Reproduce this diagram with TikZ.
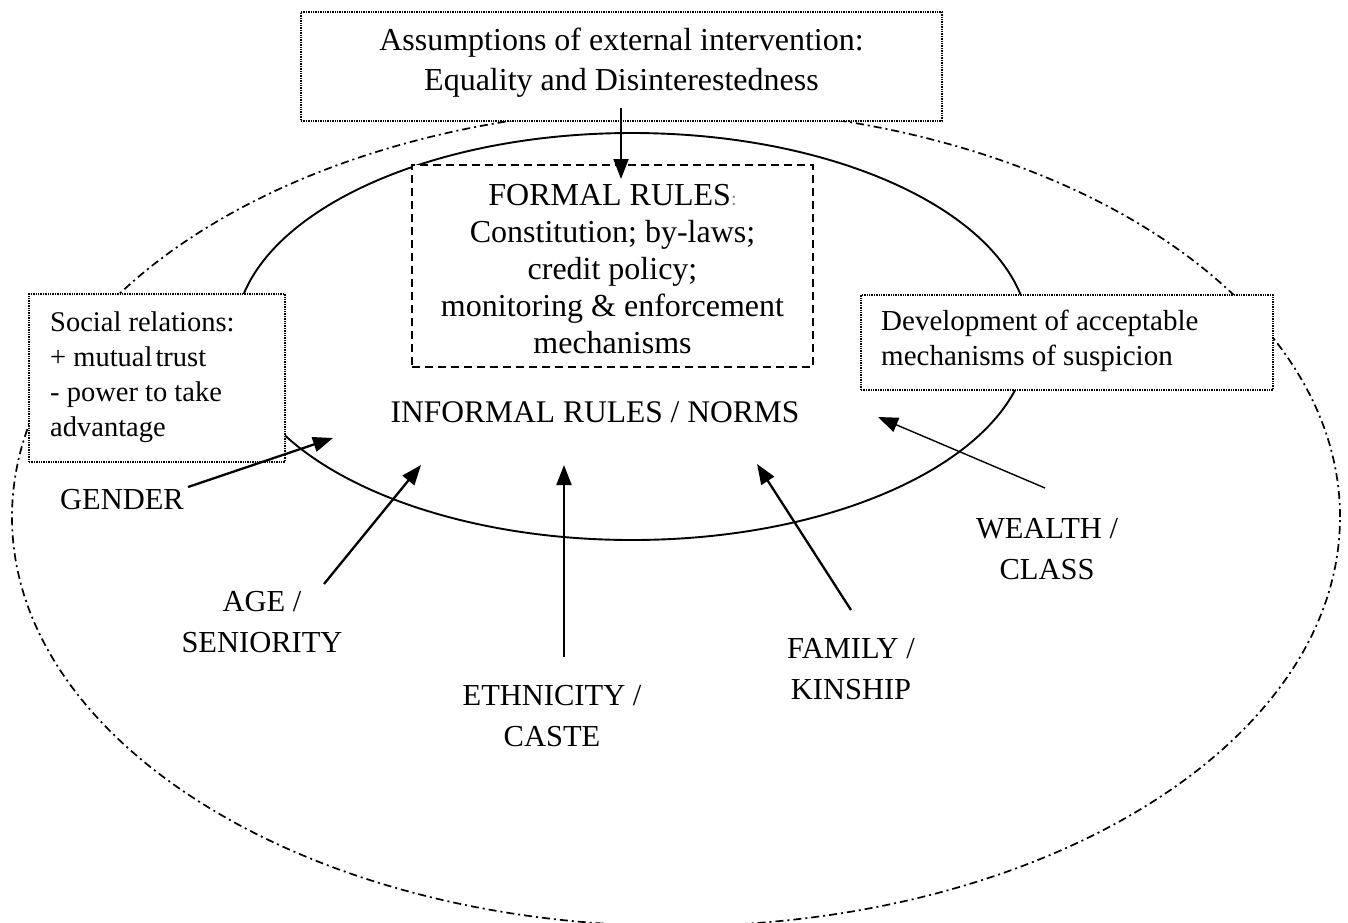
\documentclass[tikz,border=0pt]{standalone}
\usepackage{fontspec}
\setmainfont{Liberation Serif}
\usetikzlibrary{arrows.meta}
\begin{document}
\begin{tikzpicture}[x=1pt,y=-1pt,
  dotbox/.style={draw, densely dotted, line width=1.4pt, fill=white, inner sep=0pt},
  dashbox/.style={draw, dash pattern=on 8pt off 5pt, line width=1.4pt, fill=white, inner sep=0pt},
  outerline/.style={line width=1.7pt, dash pattern=on 8pt off 4pt on 2pt off 4pt},
  innerline/.style={line width=1.9pt},
  arr/.style={line width=2.3pt, -{Triangle[length=20pt,width=15pt]}},
  lbl/.style={align=center, font=\fontsize{30.5}{41}\selectfont, inner sep=0pt},
  txt/.style={inner sep=0pt},
]
\clip (0,0) rectangle (1348,922);
\fill[white] (0,0) rectangle (1348,922);

% outer and inner ellipses
\draw[outerline] (676,517) ellipse [x radius=664pt, y radius=409pt];
\draw[innerline] (632,336.5) ellipse [x radius=397pt, y radius=203.5pt];

% boxes
\node[dotbox, minimum width=641pt, minimum height=109pt] (top) at (621.5,66.5) {};
\node[txt, align=center, font=\fontsize{32}{40}\selectfont] (toptxt) at (621.5,63)
  {Assumptions of external intervention:\\Equality and Disinterestedness};

\node[dashbox, minimum width=401pt, minimum height=202pt] (formal) at (612.5,266) {};
\node[txt, align=center, font=\fontsize{32}{37}\selectfont] (formaltxt) at (612.5,269)
  {FORMAL RULES{\fontsize{20}{20}\selectfont\color{gray}:}\\Constitution; by-laws;\\credit policy;\\monitoring \& enforcement\\mechanisms};

\node[dotbox, minimum width=256pt, minimum height=168pt] (social) at (157,378) {};
\node[txt, anchor=west, align=left, font=\fontsize{28.5}{35}\selectfont] (socialtxt) at (50,377.5)
  {Social relations:\\+ mutual\hspace{3pt}trust\\- power to take\\advantage};

\node[dotbox, minimum width=412pt, minimum height=95pt] (susp) at (1067,342.5) {};
\node[txt, anchor=west, align=left, font=\fontsize{29}{35}\selectfont] (susptxt) at (881,340.5)
  {Development of acceptable\\mechanisms of suspicion};

\node[txt, font=\fontsize{31.5}{38}\selectfont] (informal) at (595,412) {INFORMAL RULES / NORMS};

% labels
\node[lbl] (gender) at (122,500) {GENDER};
\node[lbl] (age) at (262,622) {AGE /\\SENIORITY};
\node[lbl] (eth) at (552,716) {ETHNICITY /\\CASTE};
\node[lbl] (fam) at (851,669) {FAMILY /\\KINSHIP};
\node[lbl] (wealth) at (1047,549) {WEALTH /\\CLASS};

% arrow endpoints
\coordinate (t0) at (621,108);   \coordinate (t1) at (621,179);
\coordinate (g0) at (188,487);   \coordinate (g1) at (333,438);
\coordinate (a0) at (324,584);   \coordinate (a1) at (421,465);
\coordinate (e0) at (564,657);   \coordinate (e1) at (564,465);
\coordinate (f0) at (851,610);   \coordinate (f1) at (757,464);
\coordinate (w0) at (1045,488);  \coordinate (w1) at (878,417);

\draw[arr, line width=1.9pt] (t0) -- (t1);
\draw[arr] (g0) -- (g1);
\draw[arr] (a0) -- (a1);
\draw[arr, line width=1.9pt] (e0) -- (e1);
\draw[arr] (f0) -- (f1);
\draw[arr, line width=1.4pt] (w0) -- (w1);
\end{tikzpicture}
\end{document}
